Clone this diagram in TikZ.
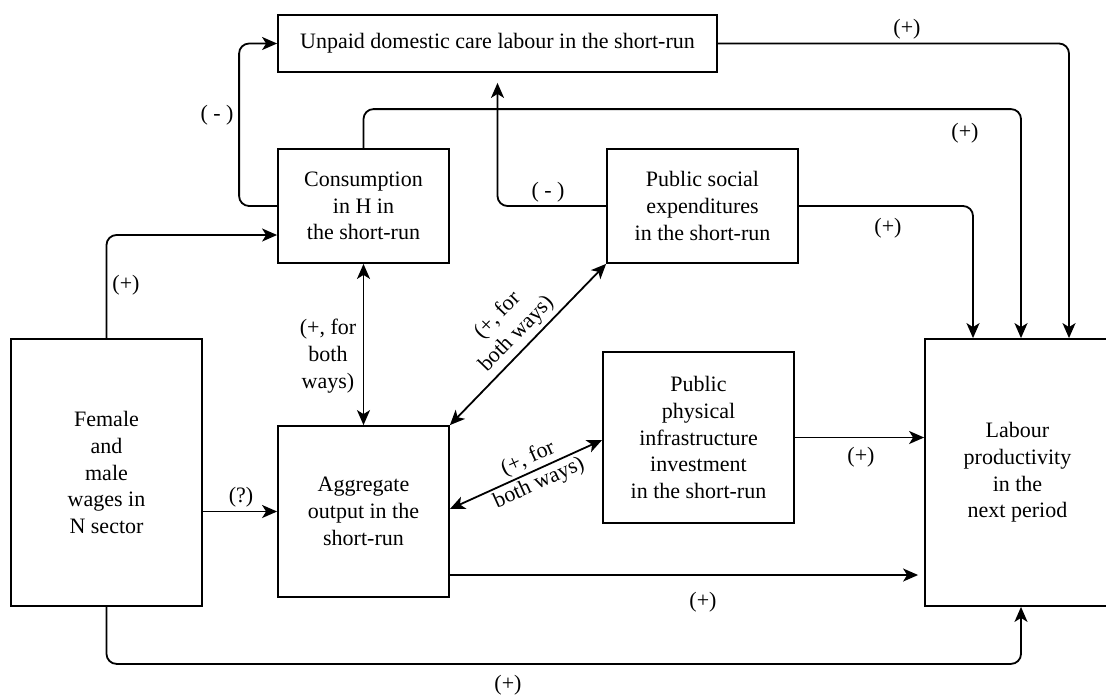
\documentclass[tikz,border=0pt]{standalone}
\usepackage{fontspec}
\setmainfont{Liberation Serif}
\usetikzlibrary{arrows.meta}
\begin{document}
\begin{tikzpicture}[x=1pt,y=-1pt,
  font=\rmfamily\fontsize{22}{26.7}\selectfont,
  box/.style={draw, line width=1.8pt, align=center, inner sep=0pt},
  tip/.tip={Stealth[length=15pt,width=13pt,inset=4pt]},
  conn/.style={line width=1.8pt, -tip, rounded corners=10pt},
  twoway/.style={line width=1.8pt, tip-tip},
  lbl/.style={inner sep=0pt, align=center}]
\useasboundingbox (0,0) rectangle (1106,697);
% boxes
\node[box, minimum width=439pt, minimum height=57pt] (unpaid) at (497.5,43.5) {Unpaid domestic care labour in the short-run};
\node[box, minimum width=171pt, minimum height=114pt] (cons) at (363.5,206) {Consumption\\in H in\\the short-run};
\node[box, minimum width=191pt, minimum height=114pt] (ps) at (702.5,206) {Public social\\expenditures\\in the short-run};
\node[box, minimum width=191pt, minimum height=267pt] (fem) at (106.5,472.5) {Female\\and\\male\\wages in\\N sector};
\node[box, minimum width=171pt, minimum height=171pt] (agg) at (363.5,511.5) {Aggregate\\output in the\\short-run};
\node[box, minimum width=191pt, minimum height=171pt] (ppi) at (698.5,437.5) {Public\\physical\\infrastructure\\investment\\in the short-run};
\node[box, minimum width=185pt, minimum height=267pt] (lab) at (1017.5,472.5) {Labour\\productivity\\in the\\next period};
% connectors
\draw[conn] (cons.west) -- ++(-38,0) |- (unpaid.west);
\node[lbl] (l1) at (217,115) {( - )};
\draw[conn] (fem.north) |- ([yshift=-29pt]cons.west);
\node[lbl] (l2) at (126,285) {(+)};
\draw[conn, shorten >=10pt] (ps.west) -| (unpaid.south);
\node[lbl] (l3) at (548,192) {( - )};
\draw[conn] (cons.north) -- ++(0,-39) -| ([xshift=3.5pt]lab.north);
\node[lbl] (l4) at (965,133) {(+)};
\draw[conn] (unpaid.east) -| ([xshift=51.5pt]lab.north);
\node[lbl] (l5) at (907,29) {(+)};
\draw[conn] (ps.east) -| ([xshift=-44.5pt]lab.north);
\node[lbl] (l6) at (888,228) {(+)};
\draw[twoway] (agg.north) -- (cons.south);
\node[lbl] (l7) at (328,356) {(+, for\\both\\ways)};
\draw[twoway] (agg.north east) -- node[lbl, sloped, above=4pt] {(+, for\\both ways)} (ps.south west);
\draw[twoway] ([yshift=2.5pt]agg.east) -- node[lbl, sloped, pos=0.55] {(+, for\\both ways)} ([yshift=-2.5pt]ppi.west);
\draw[conn] (fem.east |- agg.west) -- (agg.west);
\node[lbl] (l8) at (241,497) {(?)};
\draw[conn] (ppi.east) -- (ppi.east -| lab.west);
\node[lbl] (l9) at (861,457) {(+)};
\coordinate (a1) at ([yshift=-63.5pt]agg.east);
\draw[conn, shorten >=6pt] (a1) -- (a1 -| lab.west);
\node[lbl] (l10) at (703,602) {(+)};
\draw[conn] (fem.south) -- ++(0,57) -| ([xshift=3.5pt]lab.south);
\node[lbl] (l11) at (508,685) {(+)};
\end{tikzpicture}
\end{document}
